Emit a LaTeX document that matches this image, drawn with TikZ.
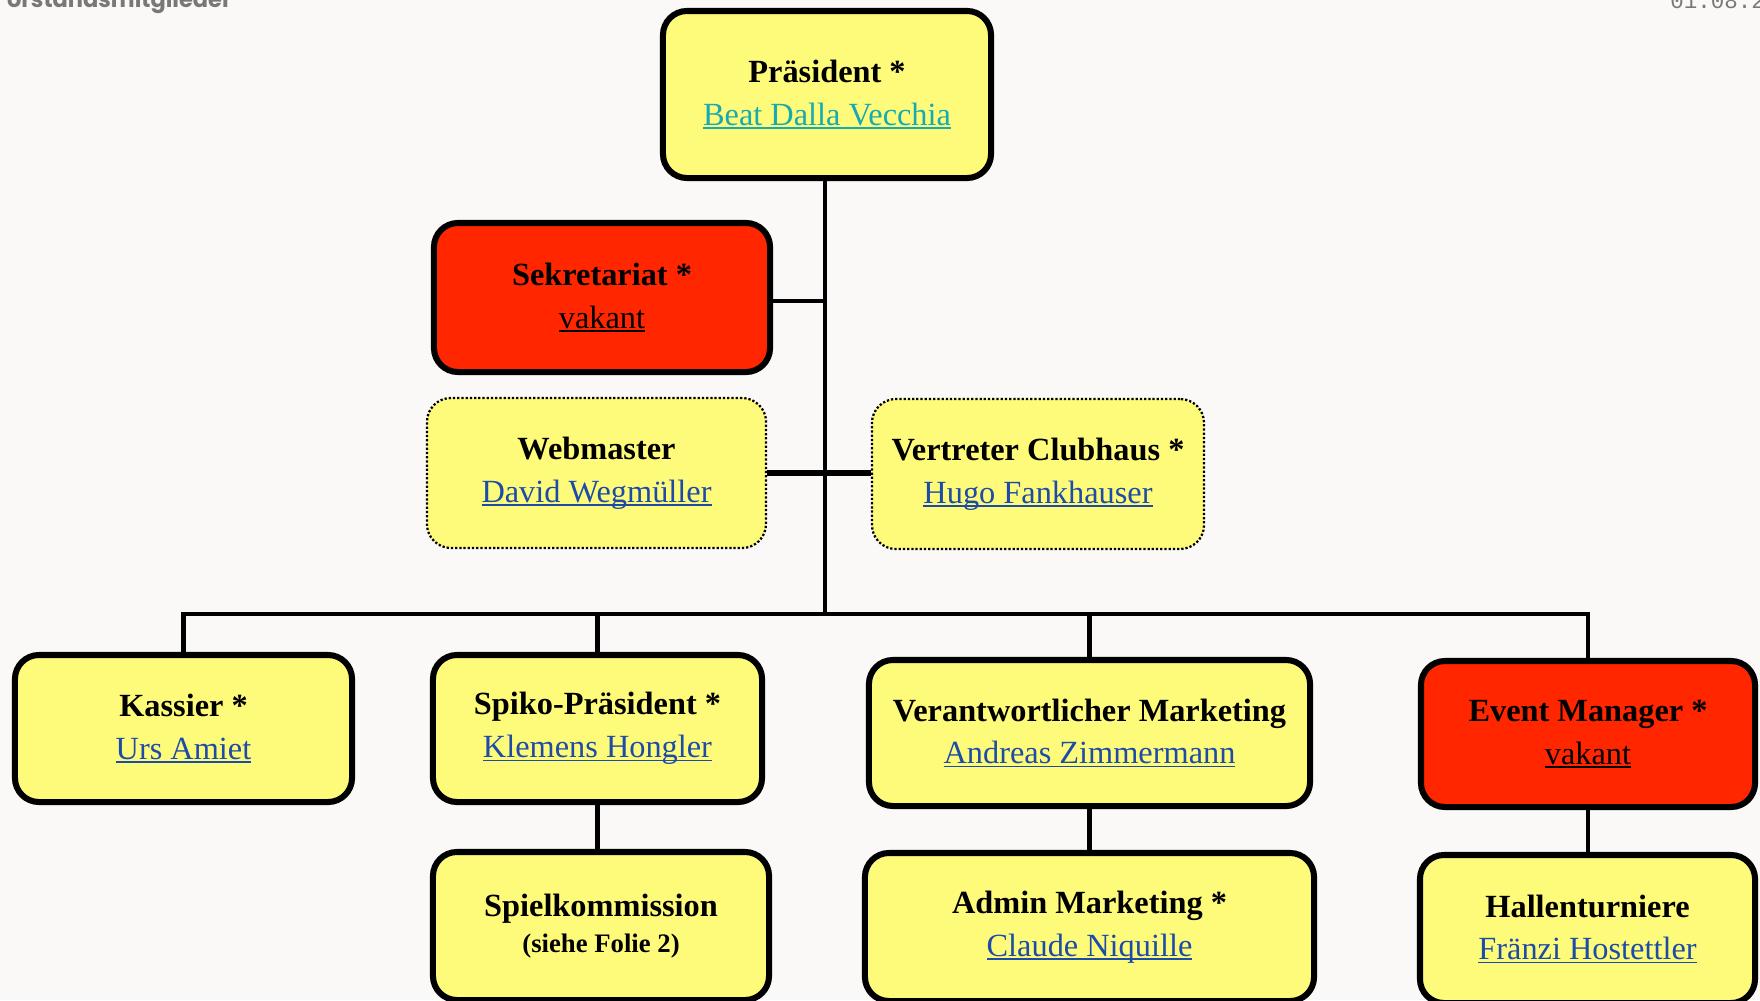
\documentclass[tikz,border=0pt]{standalone}
\usepackage{fontspec}
\setmainfont{Liberation Serif}
\newfontfamily\headfont{Poppins}
\newfontfamily\datefont{Liberation Mono}
\usetikzlibrary{positioning}
\definecolor{paper}{RGB}{250,249,248}
\definecolor{postit}{RGB}{255,251,122}
\definecolor{vacant}{RGB}{255,38,0}
\definecolor{namelink}{RGB}{28,76,168}
\definecolor{toplink}{RGB}{22,170,178}
\definecolor{headgray}{RGB}{120,120,120}
\newcommand{\lnk}[1]{\leavevmode\setbox0=\hbox{#1}\rlap{\rule[-0.11em]{\wd0}{0.05em}}\box0}
\tikzset{
    every node/.style={font=\fontsize{23}{30.5}\selectfont, align=center},
    post/.style={draw, line width=4.3pt, rounded corners=0.6cm, fill=postit},
    open/.style={post, fill=vacant},
    guest/.style={draw, line width=1.6pt, dash pattern=on 1.6pt off 1.4pt, rounded corners=0.6cm, fill=postit},
    link/.style={line width=3pt},
}

\begin{document}
\begin{tikzpicture}[x=0.025cm,y=-0.025cm]
        \clip (0,0) rectangle (1760,1000);
        \fill[paper] (0,0) rectangle (1760,1000);
        \node[anchor=base east, inner sep=0pt, text=headgray, font=\headfont\bfseries\fontsize{16}{19}\selectfont] (title) at (232,7) {orstandsmitglieder};
        \node[anchor=base west, inner sep=0pt, text=headgray, font=\datefont\fontsize{16}{19}\selectfont] (date) at (1670,8) {01.08.2};

        \node[post, minimum width=8.2cm, minimum height=4.175cm] (praes) at (827,94.5) {\textbf{Präsident *}\\\textcolor{toplink}{\lnk{Beat Dalla Vecchia}}};
        \node[open, minimum width=8.4cm, minimum height=3.725cm] (sekr) at (602,297.5) {\textbf{Sekretariat *}\\\lnk{vakant}};
        \node[guest, minimum width=8.475cm, minimum height=3.75cm] (web) at (596.5,473) {\textbf{Webmaster}\\\textcolor{namelink}{\lnk{David Wegmüller}}};
        \node[guest, minimum width=8.3cm, minimum height=3.75cm] (clubh) at (1038,474) {\textbf{Vertreter Clubhaus *}\\\textcolor{namelink}{\lnk{Hugo Fankhauser}}};
        \node[post, minimum width=8.425cm, minimum height=3.675cm] (kassier) at (183.5,728.5) {\textbf{Kassier *}\\\textcolor{namelink}{\lnk{Urs Amiet}}};
        \node[post, minimum width=8.225cm, minimum height=3.675cm] (spiko) at (597.5,728.5) {\textbf{Spiko-Präsident *}\\\textcolor{namelink}{\lnk{Klemens Hongler}}};
        \node[post, minimum width=11.025cm, minimum height=3.65cm] (verant) at (1089.5,733) {\textbf{Verantwortlicher Marketing}\\\textcolor{namelink}{\lnk{Andreas Zimmermann}}};
        \node[open, minimum width=8.35cm, minimum height=3.65cm] (event) at (1588,734) {\textbf{Event Manager *}\\\lnk{vakant}};
        \node[post, minimum width=8.4cm, minimum height=3.7cm] (spielk) at (601,926) {\textbf{Spielkommission}\\[-4.5pt]{\fontsize{19}{24}\selectfont\textbf{(siehe Folie 2)}}};
        \node[post, minimum width=11.225cm, minimum height=3.7cm] (admin) at (1089.5,927) {\textbf{Admin Marketing *}\\\textcolor{namelink}{\lnk{Claude Niquille}}};
        \node[post, minimum width=8.375cm, minimum height=3.7cm] (hallen) at (1587.5,929) {\textbf{Hallenturniere}\\\textcolor{namelink}{\lnk{Fränzi Hostettler}}};

        \coordinate (bus) at (825,614);
        \coordinate (sekrtap) at (825,301);
        \draw[link] (praes.south -| bus) -- (bus);
        \draw[link] (sekr.east |- sekrtap) -- (sekrtap);
        \draw[link, line width=4.3pt] (web.east) -- (web.east -| clubh.west);
        \draw[link] (kassier.north) |- (event.north |- bus) -- (event.north);
        \draw[link] (spiko.north) -- (spiko.north |- bus);
        \draw[link] (verant.north) -- (verant.north |- bus);
        \draw[link] (spiko.south) -- (spiko.south |- spielk.north);
        \draw[link] (verant.south) -- (verant.south |- admin.north);
        \draw[link] (event.south) -- (event.south |- hallen.north);
    \end{tikzpicture}
\end{document}
